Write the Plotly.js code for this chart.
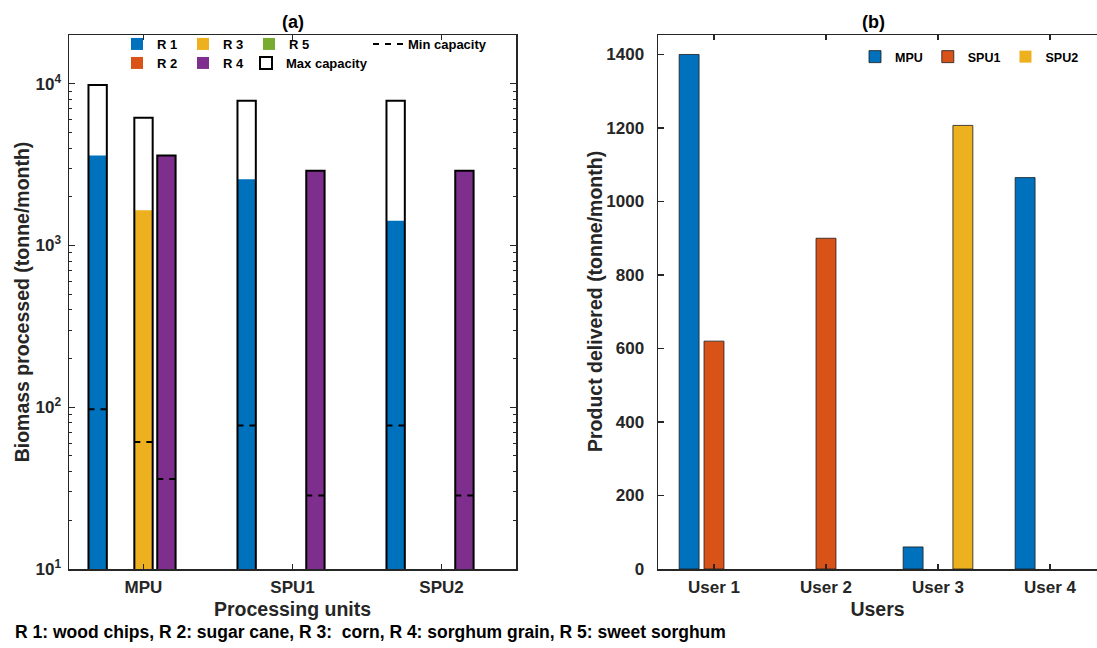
<!DOCTYPE html>
<html>
<head>
<meta charset="utf-8">
<script src="https://cdn.plot.ly/plotly-3.0.1.min.js"></script>
<style>html,body{margin:0;padding:0;background:#fff;}</style>
</head>
<body>
<div id="chart" style="width:1097px;height:648px;"></div>
<script>
// ---------- Data: panel (a) ----------
const units = ['MPU', 'SPU1', 'SPU2'];
const resourceNames = ['R 1', 'R 2', 'R 3', 'R 4', 'R 5'];
const processedR1 = [3600, 2570, 1420];
const processedR2 = [0, 0, 0];
const processedR3 = [1650, 0, 0];
const processedR4 = [3600, 2900, 2900];
const processedR5 = [0, 0, 0];
const maxCapR1 = [9800, 7850, 7850];
const maxCapR2 = [0, 0, 0];
const maxCapR3 = [6150, 0, 0];
const maxCapR4 = [3600, 2900, 2900];
const maxCapR5 = [0, 0, 0];
const minCapR1 = [97, 77, 77];
const minCapR2 = [0, 0, 0];
const minCapR3 = [61, 0, 0];
const minCapR4 = [36, 28.5, 28.5];
const minCapR5 = [0, 0, 0];
const logTickVals = [10, 100, 1000, 10000];
const logTickText = ['10<sup>1</sup>', '10<sup>2</sup>', '10<sup>3</sup>', '10<sup>4</sup>'];

// ---------- Data: panel (b) ----------
const users = ['User 1', 'User 2', 'User 3', 'User 4'];
const unitNames = ['MPU', 'SPU1', 'SPU2'];
const deliveredMPU = [1400, 0, 60, 1065];
const deliveredSPU1 = [620, 900, 0, 0];
const deliveredSPU2 = [0, 0, 1207, 0];
const linTickVals = [0, 200, 400, 600, 800, 1000, 1200, 1400];

// ---------- Styling ----------
const FONT = 'Liberation Sans, Arial, Helvetica, sans-serif';
const AX = '#262626';
const resColors = ['#0072BD', '#D95319', '#EDB120', '#7E2F8E', '#77AC30'];
const W = 1097, H = 648;
const px = v => v / W;
const py = v => 1 - v / H;

const processed = [processedR1, processedR2, processedR3, processedR4, processedR5];
const maxCaps = [maxCapR1, maxCapR2, maxCapR3, maxCapR4, maxCapR5];
const minCaps = [minCapR1, minCapR2, minCapR3, minCapR4, minCapR5];
const delivered = [deliveredMPU, deliveredSPU1, deliveredSPU2];

// grouped bar geometry (MATLAB-like)
const nA = 5, gwA = Math.min(0.8, nA / (nA + 1.5)), pitchA = gwA / nA, widthA = pitchA * 0.8;
const nB = 3, gwB = Math.min(0.8, nB / (nB + 1.5)), pitchB = gwB / nB, widthB = pitchB * 0.8;
const unitIdx = units.map((_, i) => i);
const userIdx = users.map((_, i) => i);

const traces = [];
// Processed biomass bars
const legendOfRes = ['legend', 'legend2', 'legend', 'legend2', 'legend'];
const rankOfRes = [1, 1, 2, 2, 3];
processed.forEach((arr, r) => {
  traces.push({
    type: 'bar', x: unitIdx, y: arr, xaxis: 'x', yaxis: 'y',
    width: widthA, offset: (r - 2) * pitchA - widthA / 2,
    marker: {color: resColors[r], line: {width: 0}},
    name: resourceNames[r], legend: legendOfRes[r], legendrank: rankOfRes[r],
    hoverinfo: 'skip'
  });
});
// Max capacity bars (outline on top)
maxCaps.forEach((arr, r) => {
  traces.push({
    type: 'bar', x: unitIdx, y: arr, xaxis: 'x', yaxis: 'y',
    width: widthA, offset: (r - 2) * pitchA - widthA / 2,
    marker: {color: 'rgba(255,255,255,0)', line: {color: '#000000', width: 2}},
    name: 'Max capacity', showlegend: r === 0, legend: 'legend5',
    hoverinfo: 'skip'
  });
});
// Min capacity dashed segments
const segX = [], segY = [];
minCaps.forEach((arr, r) => arr.forEach((v, i) => {
  if (v > 0) {
    const c = unitIdx[i] + (r - 2) * pitchA;
    segX.push(c - widthA / 2, c + widthA / 2, null);
    segY.push(v, v, null);
  }
}));
traces.push({
  type: 'scatter', mode: 'lines', x: segX, y: segY, xaxis: 'x', yaxis: 'y',
  line: {color: '#000000', width: 2, dash: '6px,6px'},
  name: 'Min capacity', legend: 'legend3', hoverinfo: 'skip', connectgaps: false
});
// Panel (b)
delivered.forEach((arr, s) => {
  traces.push({
    type: 'bar', x: userIdx, y: arr, xaxis: 'x2', yaxis: 'y2',
    width: widthB, offset: (s - 1) * pitchB - widthB / 2,
    marker: {color: resColors[s], line: {color: '#1a1a1a', width: arr.map(v => v > 0 ? 0.8 : 0)}},
    name: unitNames[s], legend: 'legend4', hoverinfo: 'skip'
  });
});

// minor ticks for log axis
const minorVals = [];
logTickVals.forEach(d => { for (let k = 2; k <= 9; k++) if (k * d <= 20000) minorVals.push(k * d); });

const tickFont = {family: FONT, size: 17, color: AX, weight: 'bold'};
const titleFont = {family: FONT, size: 19.5, color: AX, weight: 'bold'};
const legFont = {family: FONT, size: 13, color: '#000', weight: 'bold'};

const axCommon = {
  showline: true, linecolor: AX, linewidth: 1.5, mirror: 'ticks',
  ticks: 'inside', tickcolor: AX, tickwidth: 1.2, showgrid: false, zeroline: false,
  tickfont: tickFont, fixedrange: true
};

const legCommon = {
  orientation: 'h', xanchor: 'left', yanchor: 'middle', bgcolor: 'rgba(0,0,0,0)',
  borderwidth: 0, font: legFont, traceorder: 'normal', itemclick: false, itemdoubleclick: false
};

const layout = {
  width: W, height: H,
  margin: {l: 0, r: 0, t: 0, b: 0},
  paper_bgcolor: '#ffffff', plot_bgcolor: '#ffffff',
  barmode: 'overlay',
  font: {family: FONT, color: AX},
  xaxis: Object.assign({}, axCommon, {
    domain: [px(69), px(516)], range: [-0.5, 2.5], anchor: 'y',
    tickmode: 'array', tickvals: unitIdx, ticktext: units, ticklen: 5,
    ticklabelstandoff: 2,
    title: {text: 'Processing units', font: titleFont, standoff: 6}
  }),
  yaxis: Object.assign({}, axCommon, {
    domain: [py(569), py(35)], type: 'log', range: [1, Math.log10(20000)], anchor: 'x',
    tickmode: 'array', tickvals: logTickVals, ticktext: logTickText, ticklen: 6,
    ticklabelstandoff: 3,
    minor: {tickmode: 'array', tickvals: minorVals, ticks: 'inside', ticklen: 3, tickcolor: AX, tickwidth: 1, showgrid: false},
    title: {text: 'Biomass processed (tonne/month)', font: titleFont, standoff: 0}
  }),
  xaxis2: Object.assign({}, axCommon, {
    domain: [px(658), 1], range: [-0.5, -0.5 + (1097 - 658) / 112], anchor: 'y2',
    tickmode: 'array', tickvals: userIdx, ticktext: users, ticklen: 5,
    ticklabelstandoff: 2,
    title: {text: 'Users', font: titleFont, standoff: 6}
  }),
  yaxis2: Object.assign({}, axCommon, {
    domain: [py(569), py(35)], range: [0, 1453], anchor: 'x2', mirror: false,
    tickmode: 'array', tickvals: linTickVals, ticklen: 6,
    ticklabelstandoff: 9
  }),
  legend: Object.assign({}, legCommon, {x: px(117), y: py(44), entrywidth: 21}),
  legend2: Object.assign({}, legCommon, {x: px(117), y: py(63), entrywidth: 21}),
  legend5: Object.assign({}, legCommon, {x: px(246), y: py(63)}),
  legend3: Object.assign({}, legCommon, {x: px(368), y: py(44)}),
  legend4: Object.assign({}, legCommon, {x: px(855), y: py(57), font: Object.assign({}, legFont, {size: 12.5})}),
  annotations: [
    {text: '(a)', xref: 'paper', yref: 'paper', x: px(293), y: py(22), showarrow: false,
     xanchor: 'center', yanchor: 'middle', font: {family: FONT, size: 18, color: '#000', weight: 'bold'}},
    {text: '(b)', xref: 'paper', yref: 'paper', x: px(873), y: py(22), showarrow: false,
     xanchor: 'center', yanchor: 'middle', font: {family: FONT, size: 18, color: '#000', weight: 'bold'}},
    {text: 'Product delivered (tonne/month)', xref: 'paper', yref: 'paper', x: px(595), y: py(302),
     showarrow: false, textangle: -90, xanchor: 'center', yanchor: 'middle', font: titleFont},
    {text: 'R 1: wood chips, R 2: sugar cane, R 3:  corn, R 4: sorghum grain, R 5: sweet sorghum',
     xref: 'paper', yref: 'paper', x: px(13), y: py(632), showarrow: false,
     xanchor: 'left', yanchor: 'middle', font: {family: FONT, size: 17.5, color: '#000', weight: 'bold'}}
  ]
};

Plotly.newPlot('chart', traces, layout, {staticPlot: true, displayModeBar: false});
</script>
</body>
</html>
